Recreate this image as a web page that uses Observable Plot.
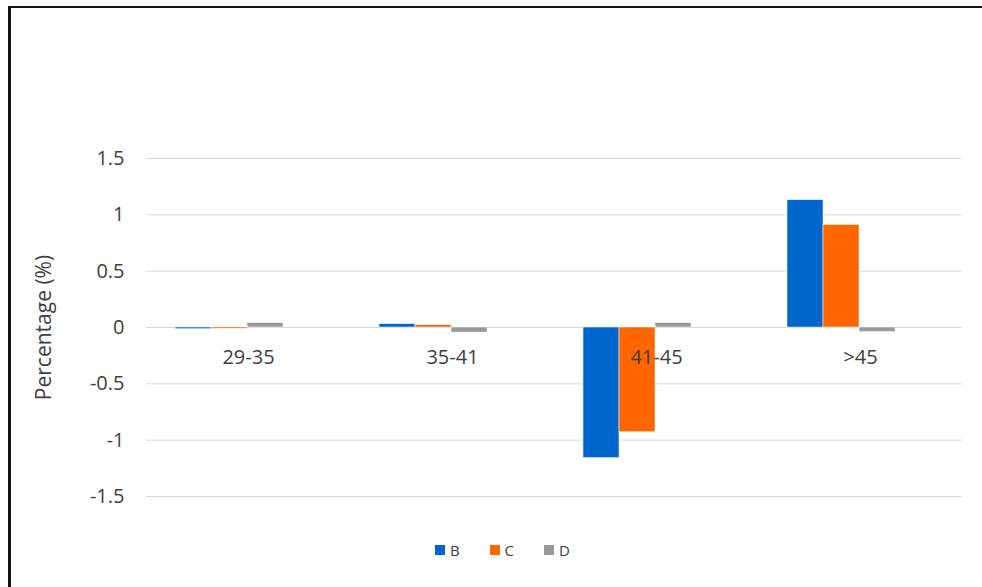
<!DOCTYPE html>
<html>
<head>
<meta charset="utf-8">
<script src="https://cdn.jsdelivr.net/npm/d3@7"></script>
<script src="https://cdn.jsdelivr.net/npm/@observablehq/plot@0.6"></script>
<style>
  html, body { margin: 0; padding: 0; background: #fff; }
  #chart { position: relative; width: 982px; height: 587px; overflow: hidden; font-family: "Open Sans", sans-serif; }
  #frame { position: absolute; left: 8px; top: 6px; right: 0; bottom: 0;
           border-left: 3px solid #151515; border-top: 2px solid #151515; pointer-events: none; }
  #legend { position: absolute; left: 435px; top: 540px; display: flex; font-size: 15px; color: #404040; }
  .item { display: flex; align-items: center; width: 54.5px; }
  .swatch { width: 10px; height: 10px; margin-right: 5px; }
</style>
</head>
<body>
<div id="chart"><div id="frame"></div></div>
<script>
// Age groups and the percentage change of each series
const categories = ["29-35", "35-41", "41-45", ">45"];
const series = ["B", "C", "D"];
const valuesB = [-0.015, 0.03, -1.16, 1.13];
const valuesC = [-0.012, 0.02, -0.93, 0.91];
const valuesD = [0.04, -0.045, 0.04, -0.04];
const seriesColors = ["#0066cc", "#ff6600", "#999999"];
const yTicks = [-1.5, -1, -0.5, 0, 0.5, 1, 1.5];
const yTitle = "Percentage (%)";

const seriesValues = [valuesB, valuesC, valuesD];
const rows = categories.flatMap((category, i) =>
  series.map((s, j) => ({category, series: s, value: seriesValues[j][i]}))
);

const chart = Plot.plot({
  width: 982,
  height: 530,
  marginLeft: 145,
  marginRight: 19,
  marginTop: 158,
  marginBottom: 34,
  style: {fontFamily: "Open Sans, sans-serif", fontSize: "20px", color: "#404040", background: "transparent"},
  fx: {domain: categories, padding: 0, axis: null},
  x: {domain: series, paddingInner: 0, paddingOuter: 1.264, align: 0.3, axis: null},
  y: {domain: [-1.5, 1.5]},
  color: {domain: series, range: seriesColors},
  marks: [
    Plot.gridY(yTicks, {stroke: "#d9d9d9", strokeOpacity: 1, strokeWidth: 1}),
    Plot.barY(rows, {fx: "category", x: "series", y: "value", fill: "series", stroke: "white", strokeWidth: 0.5}),
    // category labels sit just under the zero line
    Plot.text(categories, {fx: d => d, y: () => 0, text: d => d, dy: 30, fill: "#404040", fontSize: 20}),
    Plot.axisY(yTicks, {
      tickSize: 0, tickPadding: 22, tickFormat: d => String(d), fontSize: 20, fill: "#404040", label: null
    }),
    // vertical axis title, drawn once in the first panel
    Plot.text([yTitle], {
      fx: () => categories[0], frameAnchor: "left", rotate: -90, dx: -102,
      text: d => d, fontSize: 21, fill: "#404040", textAnchor: "middle", lineAnchor: "middle"
    })
  ]
});

const root = document.getElementById("chart");
root.insertBefore(chart, root.firstChild);

// Legend below the plot area
const legend = document.createElement("div");
legend.id = "legend";
series.forEach((s, i) => {
  const item = document.createElement("div");
  item.className = "item";
  const sw = document.createElement("span");
  sw.className = "swatch";
  sw.style.background = seriesColors[i];
  const label = document.createElement("span");
  label.textContent = s;
  item.append(sw, label);
  legend.append(item);
});
root.append(legend);
</script>
</body>
</html>
